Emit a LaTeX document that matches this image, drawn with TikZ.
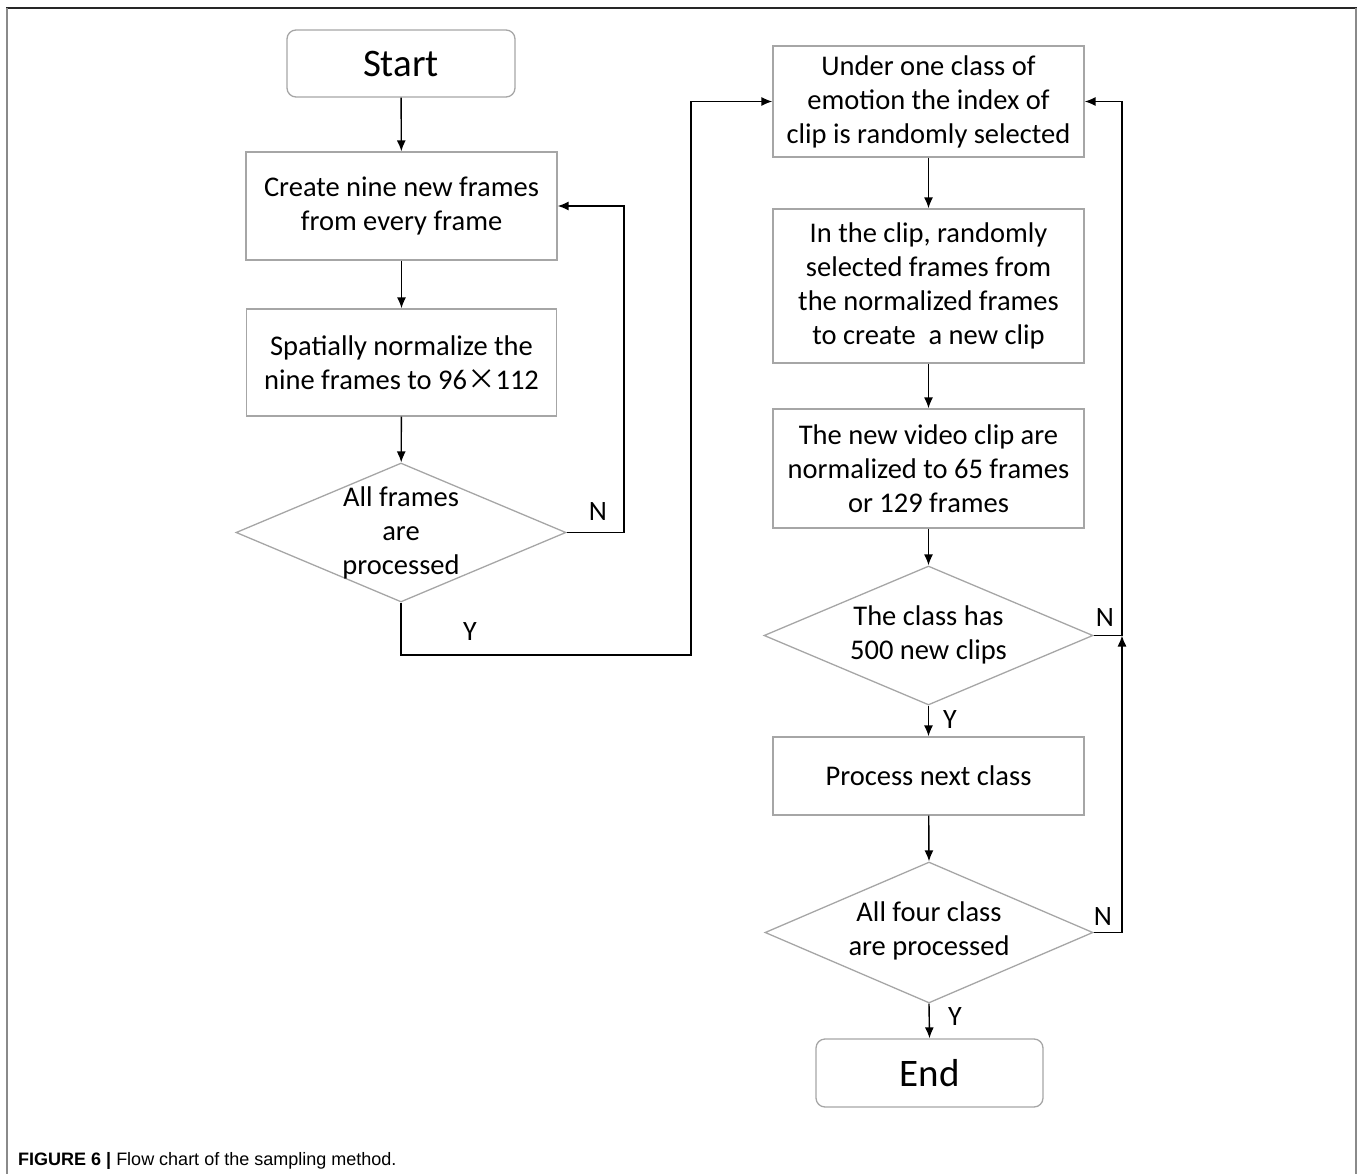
\documentclass[tikz,border=0pt]{standalone}
\usepackage{fontspec}
\setmainfont{Carlito}
\newfontfamily\capfont{Liberation Sans}
\newfontfamily\cjk{Noto Sans CJK SC}
\usetikzlibrary{arrows.meta,shapes.geometric}
\definecolor{boxgray}{HTML}{A6A6A6}
\definecolor{framegray}{HTML}{8A8A8A}
\tikzset{
  procbox/.style={draw=boxgray, line width=1.3pt, fill=white, inner sep=0pt, align=center,
    font=\fontsize{28.5}{34}\selectfont},
  termbox/.style={procbox, rounded corners=9pt, font=\fontsize{39}{42}\selectfont},
  decbox/.style={draw=boxgray, line width=1.3pt, diamond, inner sep=0pt},
  dectext/.style={align=center, inner sep=0pt, font=\fontsize{28.5}{34}\selectfont},
  lbl/.style={inner sep=0pt, font=\fontsize{28}{30}\selectfont},
  conn/.style={draw=black, line width=1.4pt},
  arr/.style={conn, -{Latex[length=11pt,width=9pt]}}
}
\begin{document}
\begin{tikzpicture}[x=1pt,y=-1pt]
\useasboundingbox (0,0) rectangle (1360,1174);
% frame
\draw[line width=1.6pt, black!85] (6,8) -- (1357,8);
\draw[line width=2.2pt, framegray] (7,8) -- (7,1174);
\draw[line width=2.2pt, framegray] (1356,8) -- (1356,1174);

% left column
\node[termbox, minimum width=228pt, minimum height=67pt] (start) at (401,63.5) {Start};
\node[procbox, minimum width=311pt, minimum height=108pt] (create) at (401.5,206) {Create nine new frames\\from every frame};
\node[procbox, minimum width=310pt, minimum height=107pt] (spatial) at (401.5,362.5) {Spatially normalize the\\nine frames to 96{\cjk ×}112};
\node[decbox, minimum width=330pt, minimum height=139pt] (d1) at (401,532.5) {};
\node[dectext] (d1t) at (401,533) {All frames\\are\\processed};

% right column
\node[procbox, minimum width=311pt, minimum height=111pt] (b1) at (928.5,101.5) {Under one class of\\emotion the index of\\clip is randomly selected};
\node[procbox, minimum width=311pt, minimum height=154pt] (b2) at (928.5,286) {In the clip, randomly\\selected frames from\\the normalized frames\\to create\ \ a new clip};
\node[procbox, minimum width=311pt, minimum height=119pt] (b3) at (928.5,468.5) {The new video clip are\\normalized to 65 frames\\or 129 frames};
\node[decbox, minimum width=329pt, minimum height=139pt] (d2) at (928.5,635.5) {};
\node[dectext] (d2t) at (928.5,635) {The class has\\500 new clips};
\node[procbox, minimum width=311pt, minimum height=78pt] (proc) at (928.5,776) {Process next class};
\node[decbox, minimum width=328pt, minimum height=141pt] (d3) at (929,932.5) {};
\node[dectext] (d3t) at (929,931) {All four class\\are processed};
\node[termbox, minimum width=227pt, minimum height=68pt] (end) at (929.5,1073) {End};

% junction coordinates
\coordinate (nl) at (624,532.5);
\coordinate (yl) at (401,655);
\coordinate (yr) at (691,655);
\coordinate (j) at (1122,635.5);

% connectors left
\draw[arr] (start) -- (create);
\draw[arr] (create) -- (spatial);
\draw[arr] (spatial) -- (d1);
\draw[arr] (d1.east) -- (nl) |- (create.east);
\draw[arr] (d1.south) -- (yl) -- (yr) |- (b1.west);

% connectors right
\draw[arr] (b1) -- (b2);
\draw[arr] (b2) -- (b3);
\draw[arr] (b3) -- (d2.north);
\draw[arr] (d2.south) -- (proc.north);
\draw[arr] (proc) -- (d3.north);
\draw[arr] (d3.south) -- (end.north);
\draw[arr] (d3.east) -| (j);
\draw[arr] (d2.east) -- (j) |- (b1.east);

% labels
\node[lbl] (n1) at (598,512) {N};
\node[lbl] (y1) at (470,632) {Y};
\node[lbl] (n2) at (1105,618) {N};
\node[lbl] (y2) at (950,720) {Y};
\node[lbl] (n3) at (1103,917) {N};
\node[lbl] (y3) at (955,1017) {Y};

% caption
\node[anchor=base west, inner sep=0pt, font=\capfont\fontsize{18}{20}\selectfont] (cap) at (18,1165)
  {\textbf{FIGURE 6 |} Flow chart of the sampling method.};
\end{tikzpicture}
\end{document}
